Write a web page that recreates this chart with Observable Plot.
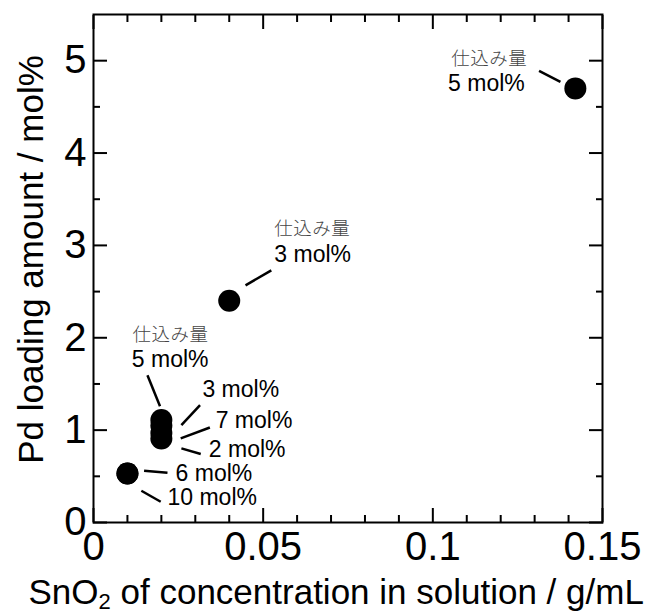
<!DOCTYPE html>
<html><head><meta charset="utf-8">
<script src="https://cdn.jsdelivr.net/npm/d3@7"></script>
<script src="https://cdn.jsdelivr.net/npm/@observablehq/plot@0.6"></script>
<style>body{margin:0;background:#fff;}</style>
</head><body><div id="chart"></div>
<script>
// measured points
const concentration = [0.142, 0.04, 0.02, 0.02, 0.02, 0.02, 0.01, 0.01];
const pdLoading     = [4.7,   2.4,  1.11, 1.05, 0.97, 0.91, 0.53, 0.53];

// nominal loading labels ("X mol%") with anchor (left, baseline) in data units
const nominalText = ["5 mol%", "3 mol%", "5 mol%", "3 mol%", "7 mol%", "2 mol%", "6 mol%", "10 mol%"];
const nominalX    = [0.1045, 0.0533, 0.0113, 0.0321, 0.0360, 0.0340, 0.0242, 0.0218];
const nominalY    = [4.676,  2.82,   1.684,  1.36,   1.018,  0.705,  0.445,  0.186];

// "仕込み量" headers
const headerText = ["仕込み量", "仕込み量", "仕込み量"];
const headerX    = [0.1054, 0.0533, 0.0115];
const headerY    = [4.95,   3.115,  1.965];

// leader lines
const leadX1 = [0.1313, 0.0448, 0.0159, 0.0314, 0.0343, 0.0259, 0.0149, 0.0141];
const leadY1 = [4.89,   2.568,  1.595,  1.27,   1.029,  0.802,  0.56,   0.344];
const leadX2 = [0.1376, 0.0524, 0.0196, 0.0259, 0.0257, 0.0316, 0.0218, 0.0198];
const leadY2 = [4.77,   2.73,   1.259,  1.054,  0.910,  0.741,  0.538,  0.225];

// axes
const xMajor = [0, 0.05, 0.1, 0.15];
const xTickLabels = ["0", "0.05", "0.1", "0.15"];
const xMinor = [0.01, 0.02, 0.03, 0.04, 0.06, 0.07, 0.08, 0.09, 0.11, 0.12, 0.13, 0.14];
const yMajor = [0, 1, 2, 3, 4, 5];
const yTickLabels = ["0", "1", "2", "3", "4", "5"];
const yMinor = [0.5, 1.5, 2.5, 3.5, 4.5];
const xLabel = "SnO2 of concentration in solution / g/mL";
const yLabel = "Pd loading amount / mol%";

const points = concentration.map((c, i) => ({x: c, y: pdLoading[i]}));
const nominal = nominalText.map((t, i) => ({t, x: nominalX[i], y: nominalY[i]}));
const headers = headerText.map((t, i) => ({t, x: headerX[i], y: headerY[i]}));
const leaders = leadX1.map((v, i) => ({x1: v, y1: leadY1[i], x2: leadX2[i], y2: leadY2[i]}));

const majorOpts = {tickSize: -14, strokeWidth: 2, label: null};
const minorOpts = {tickSize: -7, strokeWidth: 2, label: null, tickFormat: () => ""};

const chart = Plot.plot({
  width: 651, height: 612,
  marginLeft: 93, marginRight: 49, marginTop: 14, marginBottom: 90,
  style: {fontFamily: '"Liberation Sans", Arial, sans-serif', background: "#fff", color: "#000"},
  x: {domain: [0, 0.15]},
  y: {domain: [0, 5.5]},
  marks: [
    Plot.axisX(xMajor, {...majorOpts, anchor: "bottom", tickPadding: 23, fontSize: 40,
      tickFormat: d => xTickLabels[xMajor.indexOf(d)]}),
    Plot.axisX(xMajor, {...majorOpts, anchor: "top", tickFormat: () => ""}),
    Plot.axisX(xMinor, {...minorOpts, anchor: "bottom"}),
    Plot.axisX(xMinor, {...minorOpts, anchor: "top"}),
    Plot.axisY(yMajor, {...majorOpts, anchor: "left", tickPadding: 21, fontSize: 40,
      tickFormat: d => yTickLabels[yMajor.indexOf(d)]}),
    Plot.axisY(yMajor, {...majorOpts, anchor: "right", tickFormat: () => ""}),
    Plot.axisY(yMinor, {...minorOpts, anchor: "left"}),
    Plot.axisY(yMinor, {...minorOpts, anchor: "right"}),
    Plot.frame({stroke: "#000", strokeWidth: 2}),
    Plot.link(leaders, {x1: "x1", y1: "y1", x2: "x2", y2: "y2", stroke: "#000", strokeWidth: 2.5}),
    Plot.dot(points, {x: "x", y: "y", r: 11, fill: "#000", stroke: "none"}),
    Plot.text(nominal, {x: "x", y: "y", text: "t", textAnchor: "start", lineAnchor: "bottom", fontSize: 23, fill: "#000"}),
    Plot.text(headers, {x: "x", y: "y", text: "t", textAnchor: "start", lineAnchor: "bottom", fontSize: 18.5, fill: "#444",
      fontFamily: '"Noto Sans CJK JP", sans-serif', fontWeight: 300}),
    Plot.text([xLabel], {frameAnchor: "bottom-left", text: d => d, textAnchor: "start", lineAnchor: "bottom",
      dx: -65, dy: 81, fontSize: 35, fill: "#000"}),
    Plot.text([yLabel], {frameAnchor: "left", text: d => d, rotate: -90, textAnchor: "middle", lineAnchor: "bottom",
      dx: -51, dy: -9, fontSize: 35, fill: "#000"})
  ]
});
document.getElementById("chart").appendChild(chart);

// subscript in SnO2
d3.select(chart).selectAll("text").filter(function() { return this.textContent === xLabel; })
  .each(function() {
    const t = d3.select(this);
    t.text(null);
    t.append("tspan").text("SnO");
    t.append("tspan").attr("font-size", 22).attr("dy", 5).text("2");
    t.append("tspan").attr("dy", -5).text(" of concentration in solution / g/mL");
  });
// slight letter spacing on the Japanese headers
d3.select(chart).selectAll("text").filter(function() { return this.textContent === "仕込み量"; })
  .style("letter-spacing", "0.5px");
</script>
</body></html>
